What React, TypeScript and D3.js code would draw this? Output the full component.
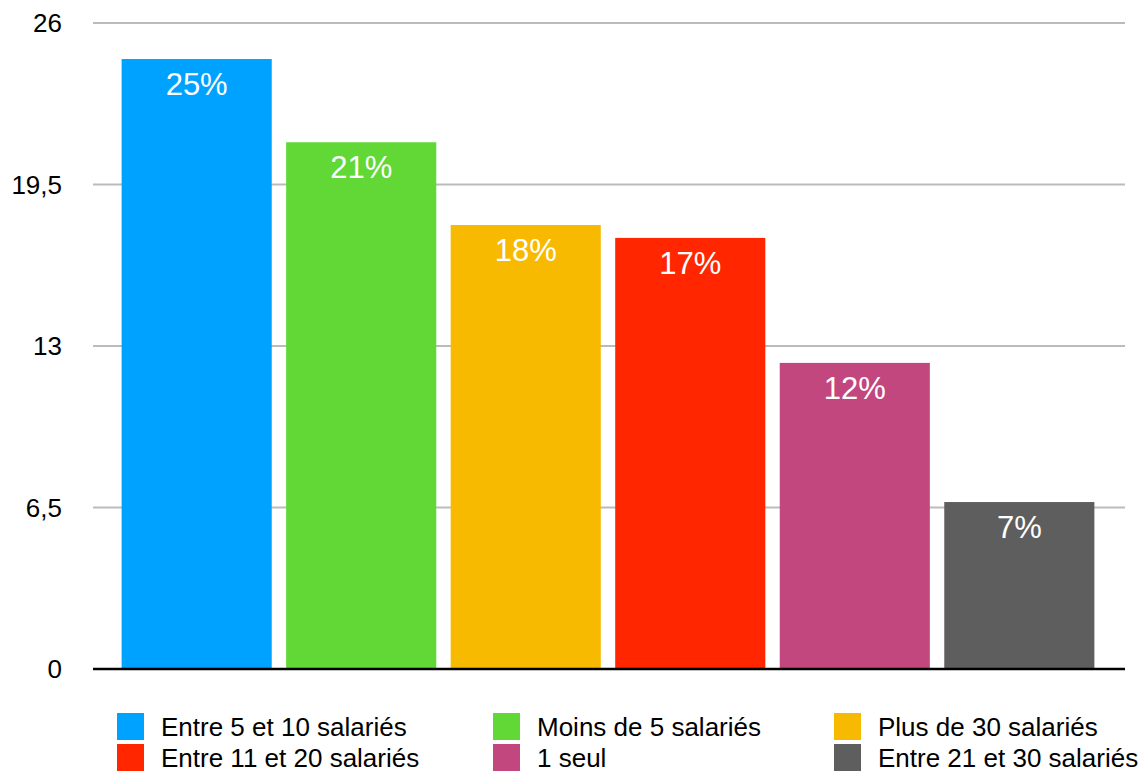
import React from "react";
import * as d3 from "d3";

const categories = [
  "Entre 5 et 10 salariés",
  "Moins de 5 salariés",
  "Plus de 30 salariés",
  "Entre 11 et 20 salariés",
  "1 seul",
  "Entre 21 et 30 salariés",
];
const values = [24.55, 21.2, 17.87, 17.35, 12.32, 6.72];
const colors = ["#00A2FF", "#61D836", "#F8BA00", "#FF2600", "#C2477F", "#5E5E5E"];
const yTicks = [0, 6.5, 13, 19.5, 26];

const W = 1144;
const H = 771;
const FONT = "'Liberation Sans', Arial, Helvetica, sans-serif";

export default function App() {
  const x = d3
    .scaleBand<string>()
    .domain(categories)
    .range([92, 1124])
    .paddingInner(0.0876)
    .paddingOuter(0.18);
  const y = d3.scaleLinear().domain([0, 26]).range([669, 23]);
  const fmt = (v: number) => String(v).replace(".", ",");

  const legendCols = [117, 493, 834];
  const legendRows = [713, 744];

  return (
    <div style={{ position: "absolute", left: 0, top: 0 }}>
      <svg width={W} height={H} style={{ display: "block", fontFamily: FONT }}>
        <rect width={W} height={H} fill="#ffffff" />
        {yTicks.map((t) => (
          <g key={t}>
            {t !== 0 && (
              <line x1={93} x2={1125} y1={y(t)} y2={y(t)} stroke="#BBBBBB" strokeWidth={2} />
            )}
            <text x={62} y={y(t)} dy="0.36em" textAnchor="end" fontSize={26} fill="#000">
              {fmt(t)}
            </text>
          </g>
        ))}
        {categories.map((c, i) => {
          const bx = x(c)!;
          const by = y(values[i]);
          return (
            <g key={c}>
              <rect x={bx} y={by} width={x.bandwidth()} height={y(0) - by} fill={colors[i]} />
              <text
                x={bx + x.bandwidth() / 2}
                y={by + 36}
                textAnchor="middle"
                fontSize={31}
                fill="#ffffff"
              >
                {Math.round(values[i]) + "%"}
              </text>
            </g>
          );
        })}
        <line x1={93} x2={1125} y1={y(0)} y2={y(0)} stroke="#000" strokeWidth={2.5} />
        {categories.map((c, i) => {
          const col = i % 3;
          const row = Math.floor(i / 3);
          const lx = legendCols[col];
          const ly = legendRows[row];
          return (
            <g key={"lg" + c}>
              <rect x={lx} y={ly} width={27} height={27} fill={colors[i]} />
              <text x={lx + 44} y={ly + 23} fontSize={26} fill="#000">
                {c}
              </text>
            </g>
          );
        })}
      </svg>
    </div>
  );
}
